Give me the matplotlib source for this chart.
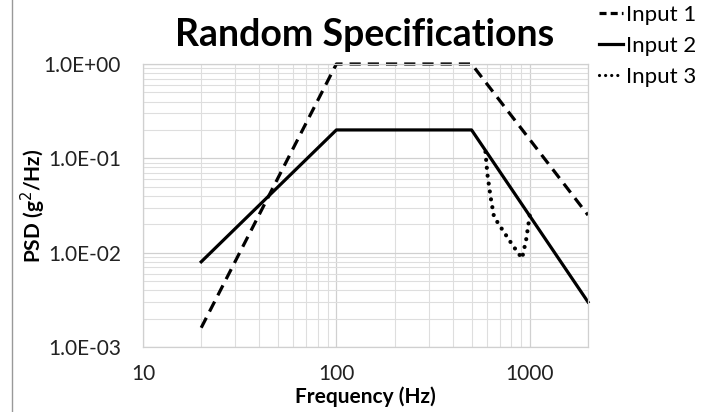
import numpy as np
import matplotlib.pyplot as plt
from matplotlib.lines import Line2D
from matplotlib.ticker import FixedLocator, NullFormatter, FuncFormatter

plt.rcParams['font.family'] = ['Lato', 'DejaVu Sans']

# data
f1 = [20, 100, 500, 2000]
p1 = [0.0016, 1.0, 1.0, 0.025]
f2 = [20, 100, 500, 2000]
p2 = [0.008, 0.2, 0.2, 0.003]
f3 = [590, 603, 627, 653, 723, 815, 912, 957, 1000]
p3 = [0.117, 0.069, 0.039, 0.024, 0.0174, 0.012, 0.0087, 0.0136, 0.025]
labels = ['Input 1', 'Input 2', 'Input 3']

dash = (0, (3.5, 2.2))
dot = (0, (0.01, 1.9))

fig = plt.figure(figsize=(7.11, 4.12), dpi=100)
ax = fig.add_axes([143 / 711, 1 - 347 / 412, 445 / 711, 283 / 412])

ax.plot(f1, p1, color='k', lw=2.3, ls=dash, clip_on=False)
ax.plot(f2, p2, color='k', lw=2.3, ls='-', clip_on=False)
ax.plot(f3, p3, color='k', lw=3.0, ls=dot, dash_capstyle='round')

ax.set_xscale('log')
ax.set_yscale('log')
ax.set_xlim(10, 2000)
ax.set_ylim(1e-3, 1)

ax.xaxis.set_major_locator(FixedLocator([10, 100, 1000]))
ax.xaxis.set_major_formatter(FuncFormatter(lambda v, p: '%d' % v))
ax.xaxis.set_minor_formatter(NullFormatter())
ax.yaxis.set_major_locator(FixedLocator([1e-3, 1e-2, 1e-1, 1]))
ax.yaxis.set_major_formatter(FuncFormatter(lambda v, p: '%.1E' % v))
ax.yaxis.set_minor_formatter(NullFormatter())

ax.grid(True, which='major', color='#d0d0d0', lw=0.9)
ax.grid(True, which='minor', color='#dedede', lw=0.8)
ax.set_axisbelow(True)
for s in ax.spines.values():
    s.set_color('#d0d0d0')
    s.set_linewidth(0.9)
ax.tick_params(which='both', length=0, labelsize=15, colors='#222222')
ax.tick_params(axis='x', pad=12)
ax.tick_params(axis='y', pad=16)

ax.set_xlabel('Frequency (Hz)', fontsize=15, fontweight='bold', labelpad=2)
ax.set_ylabel('PSD (g$^2$/Hz)', fontsize=15, fontweight='bold', labelpad=-3)
fig.text(365 / 711, 1 - 35 / 412, 'Random Specifications', fontsize=27,
         fontweight='bold', ha='center', va='center')

# legend with short handles like the original
handles = [Line2D([], [], color='k', lw=2.3, ls=(0, (2.2, 1.3))),
           Line2D([], [], color='k', lw=2.3, ls='-'),
           Line2D([], [], color='k', lw=2.3, ls=(0, (0.01, 1.9)), dash_capstyle='round')]
ax.legend(handles, labels, loc='upper left', bbox_to_anchor=(590 / 711, 1.01),
          bbox_transform=fig.transFigure, frameon=False, fontsize=16,
          handlelength=1.1, handletextpad=0.1, labelspacing=0.5, borderaxespad=0.0)

# thin frame line on the left edge
fig.add_artist(Line2D([12 / 711, 12 / 711], [0, 1], color='#999999', lw=1.0))

fig.savefig('out.png', dpi=100)
